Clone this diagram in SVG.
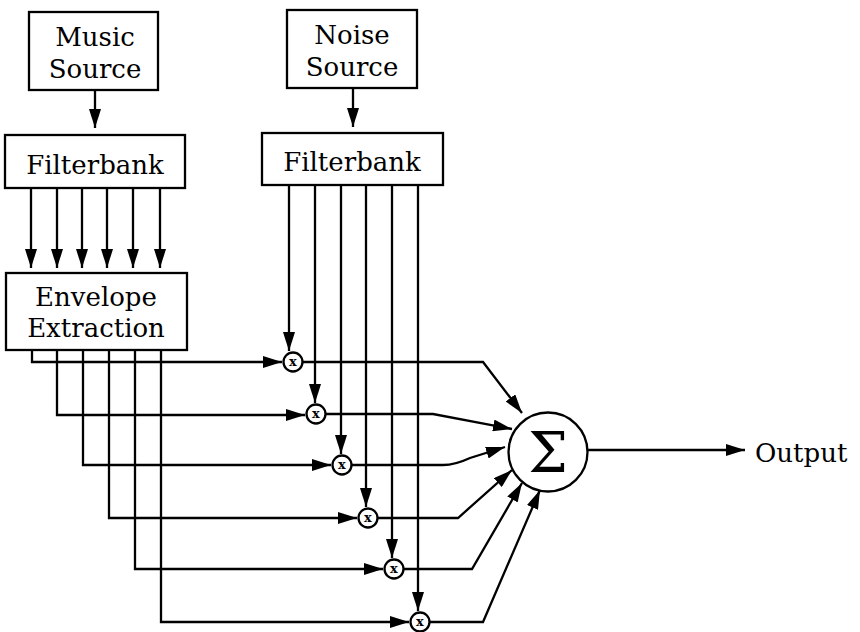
<svg xmlns="http://www.w3.org/2000/svg" width="860" height="632" viewBox="0 0 860 632">
<style>
.box{fill:#fff;stroke:#000;stroke-width:2.3}
.t{font-family:"DejaVu Serif","Liberation Serif",serif;font-size:26px;fill:#000;text-anchor:middle}
.ln{fill:none;stroke:#000;stroke-width:2.3}
.mul{fill:#fff;stroke:#000;stroke-width:2.3}
.mx{font-family:"DejaVu Serif","Liberation Serif",serif;font-size:13px;font-weight:bold;fill:#000;text-anchor:middle}
</style>
<defs>
<marker id="ah" markerUnits="userSpaceOnUse" markerWidth="20" markerHeight="12" refX="19" refY="6" orient="auto" viewBox="0 0 20 12">
<path d="M0,0 L19,6 L0,12 z" fill="#000"/>
</marker>
</defs>
<rect width="860" height="632" fill="#fff"/>
<g id="connectors">
<path class="ln" d="M95,90 V128" marker-end="url(#ah)"/>
<path class="ln" d="M353,88 V127" marker-end="url(#ah)"/>
<path class="ln" d="M31,188 V268" marker-end="url(#ah)"/>
<path class="ln" d="M57,188 V268" marker-end="url(#ah)"/>
<path class="ln" d="M82,188 V268" marker-end="url(#ah)"/>
<path class="ln" d="M107,188 V268" marker-end="url(#ah)"/>
<path class="ln" d="M133,188 V268" marker-end="url(#ah)"/>
<path class="ln" d="M160,188 V268" marker-end="url(#ah)"/>
<path class="ln" d="M289,185 V351" marker-end="url(#ah)"/>
<path class="ln" d="M315,185 V403" marker-end="url(#ah)"/>
<path class="ln" d="M341,185 V454" marker-end="url(#ah)"/>
<path class="ln" d="M366,185 V507" marker-end="url(#ah)"/>
<path class="ln" d="M392,185 V558" marker-end="url(#ah)"/>
<path class="ln" d="M418,185 V611" marker-end="url(#ah)"/>
<path class="ln" d="M32,350 V362 H282" marker-end="url(#ah)"/>
<path class="ln" d="M57,350 V415 H305" marker-end="url(#ah)"/>
<path class="ln" d="M83,350 V465 H331" marker-end="url(#ah)"/>
<path class="ln" d="M109,350 V518 H357" marker-end="url(#ah)"/>
<path class="ln" d="M135,350 V569 H383" marker-end="url(#ah)"/>
<path class="ln" d="M161,350 V622 H409" marker-end="url(#ah)"/>
<path class="ln" d="M303,362 H483 L522,413" marker-end="url(#ah)"/>
<path class="ln" d="M326,414 H433 L512,429" marker-end="url(#ah)"/>
<path class="ln" d="M352,465 H443 Q455,465 470,458 L505,447" marker-end="url(#ah)"/>
<path class="ln" d="M378,518 H458 L512,470" marker-end="url(#ah)"/>
<path class="ln" d="M404,569 H472 L522,483" marker-end="url(#ah)"/>
<path class="ln" d="M430,622 H483 L540,490" marker-end="url(#ah)"/>
<path class="ln" d="M588,450 H745" marker-end="url(#ah)"/>
</g>
<g id="music-source">
<rect class="box" x="29" y="12" width="129" height="78"/>
<text class="t" x="95" y="46">Music</text>
<text class="t" x="95" y="78">Source</text>
</g>
<g id="filterbank-1">
<rect class="box" x="5" y="135" width="180" height="53"/>
<text class="t" x="95" y="174">Filterbank</text>
</g>
<g id="envelope-extraction">
<rect class="box" x="6" y="273" width="181" height="77"/>
<text class="t" x="96" y="306">Envelope</text>
<text class="t" x="96" y="337">Extraction</text>
</g>
<g id="noise-source">
<rect class="box" x="287" y="10" width="130" height="78"/>
<text class="t" x="352" y="44">Noise</text>
<text class="t" x="352" y="76">Source</text>
</g>
<g id="filterbank-2">
<rect class="box" x="262" y="133" width="181" height="52"/>
<text class="t" x="352" y="171">Filterbank</text>
</g>
<g id="mul-1"><circle class="mul" cx="293" cy="362" r="9.5"/><text class="mx" x="293" y="366">x</text></g>
<g id="mul-2"><circle class="mul" cx="316" cy="414" r="9.5"/><text class="mx" x="316" y="418">x</text></g>
<g id="mul-3"><circle class="mul" cx="342" cy="465" r="9.5"/><text class="mx" x="342" y="469">x</text></g>
<g id="mul-4"><circle class="mul" cx="368" cy="518" r="9.5"/><text class="mx" x="368" y="522">x</text></g>
<g id="mul-5"><circle class="mul" cx="394" cy="569" r="9.5"/><text class="mx" x="394" y="573">x</text></g>
<g id="mul-6"><circle class="mul" cx="420" cy="622" r="9.5"/><text class="mx" x="420" y="626">x</text></g>
<g id="sum">
<circle class="mul" cx="548" cy="452" r="39.5"/>
<text class="t" x="548" y="472" style="font-size:56px">Σ</text>
</g>
<g id="output">
<text class="t" x="755" y="462" style="text-anchor:start">Output</text>
</g>
</svg>
